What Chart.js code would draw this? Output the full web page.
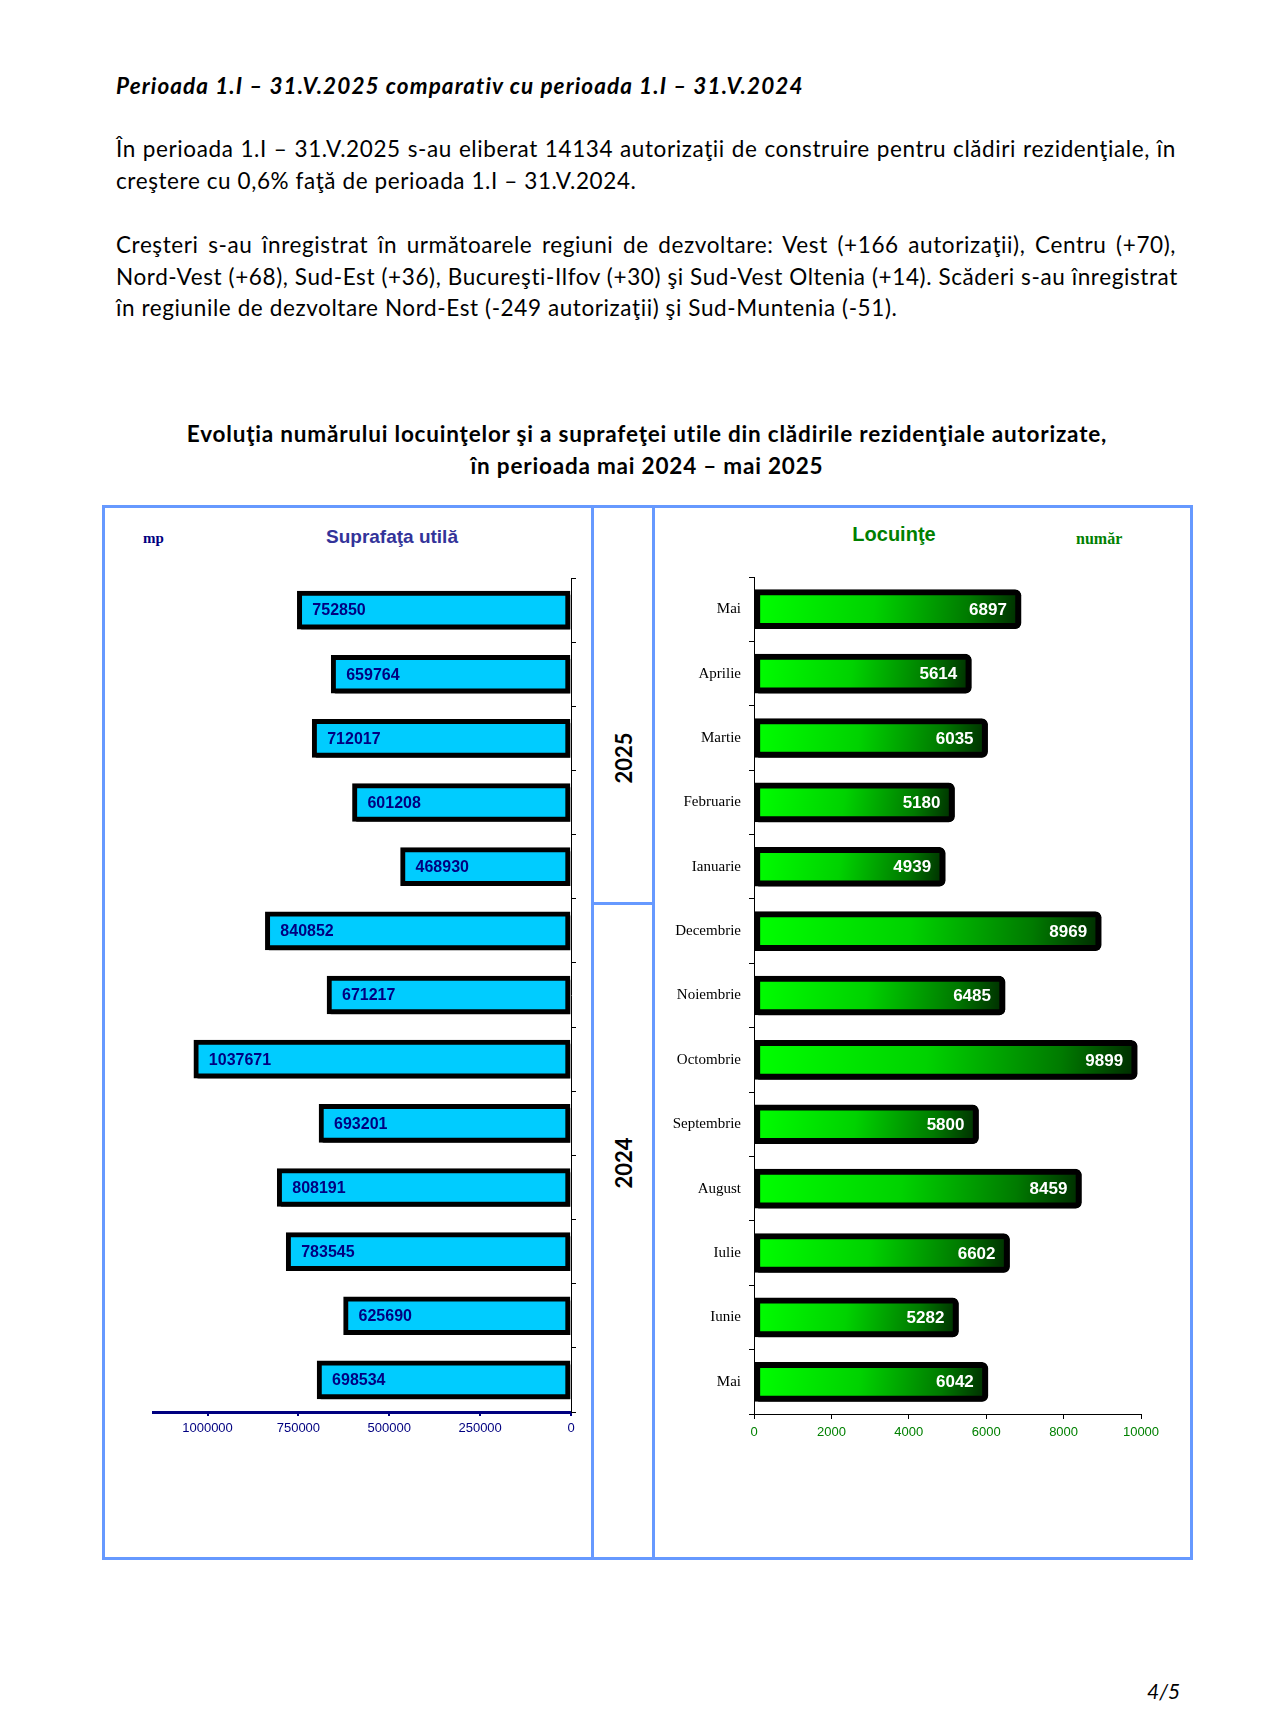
<!DOCTYPE html>
<html lang="ro">
<head>
<meta charset="utf-8">
<title>Evoluţia numărului locuinţelor</title>
<script src="https://cdn.jsdelivr.net/npm/chart.js@4.4.1/dist/chart.umd.min.js"></script>
<style>
	html, body { margin: 0; padding: 0; background: #fff; }
	body { position: relative; width: 1267px; height: 1735px; overflow: hidden; font-family: Lato, "Noto Sans", sans-serif; color: #000; }
	.abs { position: absolute; }
	.txt { font-size: 22.5px; line-height: 31.5px; letter-spacing: 0.6px; }
	.line { white-space: nowrap; }
	.just { text-align: justify; text-align-last: justify; }
	.frame { border: 3px solid #6699ff; box-sizing: border-box; }
	.vline { background: #6699ff; width: 3px; }
	.hline { background: #6699ff; height: 3px; }
	.year { font-weight: bold; font-size: 22px; transform: translate(-50%, -50%) rotate(-90deg); }
</style>
</head>
<body>

<div class="abs txt" style="left:116px; top:70px; font-weight:bold; font-style:italic; letter-spacing:1.1px;">Perioada 1.I – 31.V.2025 comparativ cu perioada 1.I – 31.V.2024</div>

<div class="abs txt" style="left:116px; top:133px; width:1060px;">
	<div class="line just">În perioada 1.I – 31.V.2025 s-au eliberat 14134 autorizaţii de construire pentru clădiri rezidenţiale, în</div>
	<div class="line">creştere cu 0,6% faţă de perioada 1.I – 31.V.2024.</div>
</div>

<div class="abs txt" style="left:116px; top:229px; width:1060px;">
	<div class="line just">Creşteri s-au înregistrat în următoarele regiuni de dezvoltare: Vest (+166 autorizaţii), Centru (+70),</div>
	<div class="line just">Nord-Vest (+68), Sud-Est (+36), Bucureşti-Ilfov (+30) şi Sud-Vest Oltenia (+14). Scăderi s-au înregistrat</div>
	<div class="line">în regiunile de dezvoltare Nord-Est (-249 autorizaţii) şi Sud-Muntenia (-51).</div>
</div>

<div class="abs txt" style="left:102px; top:418px; width:1090px; text-align:center; font-weight:bold; line-height:32px; letter-spacing:0.8px;">
	Evoluţia numărului locuinţelor şi a suprafeţei utile din clădirile rezidenţiale autorizate,<br>
	în perioada mai 2024 – mai 2025
</div>

<!-- frame -->
<div class="abs frame" style="left:102px; top:505px; width:1091px; height:1055px;"></div>
<div class="abs vline" style="left:591px; top:505px; height:1055px;"></div>
<div class="abs vline" style="left:652px; top:505px; height:1055px;"></div>
<div class="abs hline" style="left:591px; top:902px; width:64px;"></div>

<div class="abs year" id="yearTop" style="left:623px; top:758px;"></div>
<div class="abs year" id="yearBottom" style="left:623px; top:1163px;"></div>

<div class="abs" style="left:143px; top:530px; font-family:'Liberation Serif', serif; font-weight:bold; font-size:15px; color:#000080;">mp</div>
<div class="abs" style="left:292px; top:526px; width:200px; text-align:center; font-family:'Liberation Sans', Arial, sans-serif; font-weight:bold; font-size:19px; color:#333399;">Suprafaţa utilă</div>
<div class="abs" style="left:794px; top:523px; width:200px; text-align:center; font-family:'Liberation Sans', Arial, sans-serif; font-weight:bold; font-size:20px; color:#008000;">Locuinţe</div>
<div class="abs" style="left:1076px; top:530px; font-family:'Liberation Serif', serif; font-weight:bold; font-size:16px; color:#008000;">număr</div>

<canvas id="surfaceChart" class="abs" width="470" height="900" style="left:120px; top:560px;"></canvas>
<canvas id="dwellingChart" class="abs" width="530" height="900" style="left:655px; top:560px;"></canvas>

<div class="abs txt" style="left:1147px; top:1675px; font-size:21px; font-style:italic; letter-spacing:0;">4/5</div>

<script>
// months, newest first (mai 2025 at the top)
const months = ['Mai', 'Aprilie', 'Martie', 'Februarie', 'Ianuarie', 'Decembrie', 'Noiembrie',
	'Octombrie', 'Septembrie', 'August', 'Iulie', 'Iunie', 'Mai'];
const years = ['2025', '2024'];

// suprafata utila (mp)
const surfaceValues = [752850, 659764, 712017, 601208, 468930, 840852, 671217,
	1037671, 693201, 808191, 783545, 625690, 698534];
// numar locuinte
const dwellingValues = [6897, 5614, 6035, 5180, 4939, 8969, 6485,
	9899, 5800, 8459, 6602, 5282, 6042];

const surfaceTicks = [0, 250000, 500000, 750000, 1000000];
const dwellingTicks = [0, 2000, 4000, 6000, 8000, 10000];

document.getElementById('yearTop').textContent = years[0];
document.getElementById('yearBottom').textContent = years[1];

const sansFont = "'Liberation Sans', Arial, sans-serif";
const serifFont = "'Liberation Serif', 'Times New Roman', serif";

// shadow under the bars, then value labels on top
function barDecor(labelStyle) {
	return {
		id: 'barDecor',
		beforeDatasetsDraw(chart) {
			const ctx = chart.ctx;
			ctx.save();
			ctx.shadowColor = 'rgba(0,0,0,0.8)';
			ctx.shadowOffsetX = 4;
			ctx.shadowOffsetY = 4;
			ctx.shadowBlur = 1;
		},
		afterDatasetsDraw(chart) {
			const ctx = chart.ctx;
			ctx.restore();
			const meta = chart.getDatasetMeta(0);
			const data = chart.data.datasets[0].data;
			ctx.save();
			ctx.font = labelStyle.font;
			ctx.fillStyle = labelStyle.color;
			ctx.textBaseline = 'middle';
			ctx.textAlign = labelStyle.align;
			meta.data.forEach((bar, i) => {
				const tx = labelStyle.align === 'left' ? bar.x + labelStyle.inset : bar.x - labelStyle.inset;
				ctx.fillText(String(data[i]), tx, bar.y + 1);
			});
			ctx.restore();
		}
	};
}

function fixedTicks(values) {
	return scale => { scale.ticks = values.map(v => ({ value: v })); };
}

new Chart(document.getElementById('surfaceChart'), {
	type: 'bar',
	data: {
		labels: months,
		datasets: [{
			data: surfaceValues,
			backgroundColor: '#00ccff',
			borderColor: '#000',
			borderWidth: 5,
			borderSkipped: false,
			barThickness: 38
		}]
	},
	options: {
		indexAxis: 'y',
		responsive: false,
		animation: false,
		layout: { padding: { left: 33, right: 14, top: 18, bottom: 26 } },
		plugins: { legend: { display: false }, tooltip: { enabled: false } },
		scales: {
			x: {
				type: 'linear',
				reverse: true,
				min: 0,
				max: 1150000,
				afterBuildTicks: fixedTicks(surfaceTicks),
				ticks: {
					color: '#000080',
					font: { family: sansFont, size: 13 },
					padding: 5,
					maxRotation: 0,
					autoSkip: false,
					callback: v => String(v)
				},
				grid: { drawOnChartArea: false, tickLength: 4, color: '#000080', lineWidth: 2 },
				border: { color: '#000080', width: 3 },
				afterFit: s => { s.height = 22; }
			},
			y: {
				position: 'right',
				ticks: { display: false },
				grid: { drawOnChartArea: false, tickLength: 5, color: '#000', offset: true },
				border: { color: '#000', width: 1 },
				afterFit: s => { s.width = 5; }
			}
		}
	},
	plugins: [barDecor({ font: 'bold 16px ' + sansFont, color: '#000080', align: 'left', inset: 15 })]
});

new Chart(document.getElementById('dwellingChart'), {
	type: 'bar',
	data: {
		labels: months,
		datasets: [{
			data: dwellingValues,
			backgroundColor: ctx => {
				const chart = ctx.chart;
				if (!chart.chartArea || ctx.type !== 'data') return '#00dd00';
				const xs = chart.scales.x;
				const ys = chart.scales.y;
				const x0 = xs.getPixelForValue(0);
				const x1 = xs.getPixelForValue(ctx.raw);
				const yc = ys.getPixelForValue(ctx.dataIndex);
				const g = chart.ctx.createLinearGradient(x0, yc - 14, x1, yc + 14);
				g.addColorStop(0, '#00ff00');
				g.addColorStop(0.45, '#00d200');
				g.addColorStop(0.8, '#007a00');
				g.addColorStop(1, '#002a00');
				return g;
			},
			borderColor: '#000',
			borderWidth: 6,
			borderSkipped: false,
			borderRadius: { topLeft: 0, bottomLeft: 0, topRight: 6, bottomRight: 6 },
			barThickness: 39
		}]
	},
	options: {
		indexAxis: 'y',
		responsive: false,
		animation: false,
		layout: { padding: { left: 4, right: 44, top: 15, bottom: 22 } },
		plugins: { legend: { display: false }, tooltip: { enabled: false } },
		scales: {
			x: {
				type: 'linear',
				min: 0,
				max: 10000,
				afterBuildTicks: fixedTicks(dwellingTicks),
				ticks: {
					color: '#008000',
					font: { family: sansFont, size: 13 },
					padding: 6,
					maxRotation: 0,
					autoSkip: false,
					callback: v => String(v)
				},
				grid: { drawOnChartArea: false, tickLength: 5, color: '#000' },
				border: { color: '#000', width: 1 },
				afterFit: s => { s.height = 24; }
			},
			y: {
				ticks: { color: '#000', font: { family: serifFont, size: 15 }, padding: 8, autoSkip: false },
				grid: { drawOnChartArea: false, tickLength: 5, color: '#000', offset: true },
				border: { color: '#000', width: 1 },
				afterFit: s => { s.width = 95; }
			}
		}
	},
	plugins: [barDecor({ font: 'bold 17px ' + sansFont, color: '#fff', align: 'right', inset: 14 })]
});
</script>
</body>
</html>
